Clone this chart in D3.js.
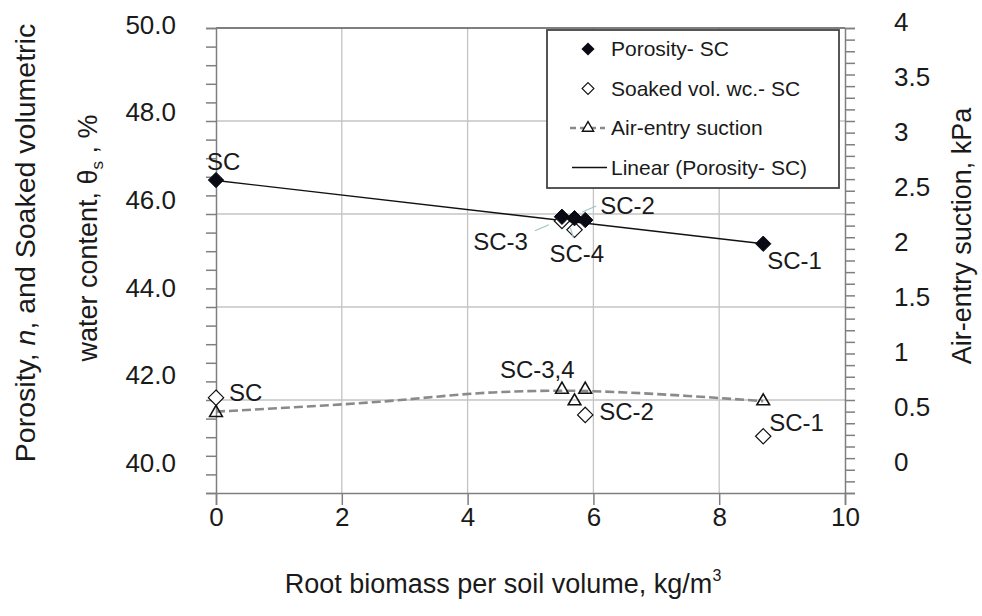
<!DOCTYPE html>
<html>
<head>
<meta charset="utf-8">
<script src="https://cdn.jsdelivr.net/npm/d3@7/dist/d3.min.js"></script>
<style>
body { margin:0; background:#fff; }
svg { font-family:"Liberation Sans", Arial, sans-serif; }
.tick text { fill:#1a1a1a; }
</style>
</head>
<body>
<svg id="chart"></svg>
<script>
var samples  = ["SC", "SC-3", "SC-4", "SC-2", "SC-1"];
var biomass  = [0, 5.5, 5.7, 5.87, 8.7];
var porosity = [46.73, 45.94, 45.91, 45.87, 45.36];
var soakedWc = [42.05, 45.85, 45.66, 41.68, 41.22];
var airEntry = [0.69, 0.89, 0.79, 0.89, 0.79];

// trend lines as they appear in the picture
var porTrendX = [0, 8.7];
var porTrendY = [46.72, 45.36];
var airTrendX = [0, 2.6, 4.4, 5.5, 6.5, 7.5, 8.7];
var airTrendY = [0.70, 0.785, 0.865, 0.88, 0.865, 0.835, 0.79];

var xTicks  = [0, 2, 4, 6, 8, 10];
var yTicksL = [40, 42, 44, 46, 48, 50];
var yTicksR = [0, 0.5, 1, 1.5, 2, 2.5, 3, 3.5, 4];

var legendNames = ["Porosity- SC", "Soaked vol. wc.- SC", "Air-entry suction", "Linear (Porosity- SC)"];

var screen = {width:982, height:616};
var plot = {left:216, right:845, top:28, bottom:493};

var svg = d3.select("#chart")
    .attr("width", screen.width)
    .attr("height", screen.height);

var x = d3.scaleLinear().domain([0,10]).range([plot.left, plot.right]);
var yL = d3.scaleLinear().domain([40,50]).range([plot.bottom, plot.top]);
var yR = d3.scaleLinear().domain([0,4]).range([plot.bottom, plot.top]);
// tick labels in the picture sit on a slightly tighter spacing than the grid
var yLabL = d3.scaleLinear().domain([40,50]).range([463, 25]);
var yLabR = d3.scaleLinear().domain([0,4]).range([462, 22]);

var gridColor = "#c4c4c4";
var axisColor = "#7f7f7f";

// gridlines
var grid = svg.append("g").classed("grid", true);
grid.selectAll(".gx")
    .data(xTicks.filter(function(d){ return d>0 && d<10; }))
    .enter().append("line")
    .attr("x1", function(d){ return x(d); })
    .attr("x2", function(d){ return x(d); })
    .attr("y1", plot.top).attr("y2", plot.bottom)
    .attr("stroke", gridColor).attr("stroke-width", 1.3);
grid.selectAll(".gy")
    .data(yTicksL.filter(function(d){ return d>40 && d<50; }))
    .enter().append("line")
    .attr("x1", plot.left).attr("x2", plot.right)
    .attr("y1", function(d){ return yL(d); })
    .attr("y2", function(d){ return yL(d); })
    .attr("stroke", gridColor).attr("stroke-width", 1.3);

// top border
svg.append("line")
    .attr("x1", plot.left).attr("x2", plot.right)
    .attr("y1", plot.top).attr("y2", plot.top)
    .attr("stroke", "#555").attr("stroke-width", 1.5);

var styleAxis = function(g)
{
    g.selectAll("path").attr("stroke", axisColor).attr("stroke-width", 1.5);
    g.selectAll("line").attr("stroke", axisColor).attr("stroke-width", 1.5);
};

// minor + major tick marks
var xMinor = d3.range(0, 10.01, 0.4);
var gx = svg.append("g")
    .attr("transform", "translate(0,"+plot.bottom+")")
    .call(d3.axisBottom(x).tickValues(xMinor).tickSize(10).tickFormat(""));
gx.call(d3.axisBottom(x).tickValues(xTicks).tickSize(12).tickFormat(""));
styleAxis(gx);

var gxl = svg.append("g")
    .attr("transform", "translate(0,"+(plot.bottom+15)+")")
    .call(d3.axisBottom(x).tickValues(xTicks).tickSize(0).tickPadding(0).tickFormat(d3.format("d")));
gxl.select(".domain").remove();
gxl.selectAll("text").attr("font-size", 26).attr("dy", "0.71em");

var yMinorL = d3.range(40, 50.01, 0.4);
var gyl = svg.append("g")
    .attr("transform", "translate("+plot.left+",0)")
    .call(d3.axisLeft(yL).tickValues(yMinorL).tickSize(10).tickFormat(""));
styleAxis(gyl);

var gyll = svg.append("g")
    .attr("transform", "translate(176,0)")
    .call(d3.axisLeft(yLabL).tickValues(yTicksL).tickSize(0).tickPadding(0).tickFormat(d3.format(".1f")));
gyll.select(".domain").remove();
gyll.selectAll("text").attr("font-size", 26);

var yMinorR = d3.range(0, 4.001, 0.1);
var gyr = svg.append("g")
    .attr("transform", "translate("+plot.right+",0)")
    .call(d3.axisRight(yR).tickValues(yMinorR).tickSize(10).tickFormat(""));
styleAxis(gyr);

var gyrl = svg.append("g")
    .attr("transform", "translate(894,0)")
    .call(d3.axisRight(yLabR).tickValues(yTicksR).tickSize(0).tickPadding(0).tickFormat(function(d){ return String(d); }));
gyrl.select(".domain").remove();
gyrl.selectAll("text").attr("font-size", 26);

// axis titles
var xt = svg.append("text")
    .attr("x", 503).attr("y", 593)
    .attr("text-anchor", "middle")
    .attr("font-size", 27)
    .attr("fill", "#1a1a1a");
xt.append("tspan").text("Root biomass per soil volume, kg/m");
xt.append("tspan").text("3").attr("font-size", 16).attr("dy", -12);

var yt1 = svg.append("text")
    .attr("transform", "translate(25,243) rotate(-90)")
    .attr("text-anchor", "middle")
    .attr("dy", "0.35em")
    .attr("font-size", 28.5)
    .attr("fill", "#1a1a1a");
yt1.append("tspan").text("Porosity, ");
yt1.append("tspan").text("n").attr("font-style", "italic");
yt1.append("tspan").text(", and Soaked volumetric");

var yt2 = svg.append("text")
    .attr("transform", "translate(88,238) rotate(-90)")
    .attr("text-anchor", "middle")
    .attr("dy", "0.35em")
    .attr("font-size", 27)
    .attr("fill", "#1a1a1a");
yt2.append("tspan").text("water content, \u03b8");
yt2.append("tspan").text("s").attr("font-size", 17).attr("dy", 6);
yt2.append("tspan").text(" , %").attr("dy", -6);

svg.append("text")
    .attr("transform", "translate(962,236) rotate(-90)")
    .attr("text-anchor", "middle")
    .attr("dy", "0.35em")
    .attr("font-size", 27)
    .attr("fill", "#1a1a1a")
    .text("Air-entry suction, kPa");

// lines
var points = function(xs, ys){ return xs.map(function(d,i){ return [d, ys[i]]; }); };

svg.append("path")
    .datum(points(airTrendX, airTrendY))
    .attr("d", d3.line().x(function(d){ return x(d[0]); }).y(function(d){ return yR(d[1]); }).curve(d3.curveMonotoneX))
    .attr("fill", "none")
    .attr("stroke", "#8a8a8a")
    .attr("stroke-width", 2.6)
    .attr("stroke-dasharray", "9,4");

svg.append("path")
    .datum(points(porTrendX, porTrendY))
    .attr("d", d3.line().x(function(d){ return x(d[0]); }).y(function(d){ return yL(d[1]); }))
    .attr("fill", "none")
    .attr("stroke", "#111")
    .attr("stroke-width", 1.4);

// markers
var diamond = d3.symbol().type(d3.symbolDiamond2).size(150);
var triangle = d3.symbol().type(d3.symbolTriangle2).size(115);

svg.append("g").selectAll("path")
    .data(biomass)
    .enter().append("path")
    .attr("transform", function(d,i){ return "translate("+x(d)+","+yR(airEntry[i])+")"; })
    .attr("d", triangle)
    .attr("fill", "none")
    .attr("stroke", "#111")
    .attr("stroke-width", 1.6);

svg.append("g").selectAll("path")
    .data(biomass)
    .enter().append("path")
    .attr("d", diamond)
    .attr("transform", function(d,i){ return "translate("+x(d)+","+yL(soakedWc[i])+")"; })
    .attr("fill", "#fff")
    .attr("stroke", "#111")
    .attr("stroke-width", 1.2);

svg.append("g").selectAll("path")
    .data(biomass)
    .enter().append("path")
    .attr("d", diamond)
    .attr("transform", function(d,i){ return "translate("+x(d)+","+yL(porosity[i])+")"; })
    .attr("fill", "#0a0a14")
    .attr("stroke", "#0a0a14")
    .attr("stroke-width", 1);

// point labels (offsets from the point they name)
var notes = [
    {t:"SC",     i:0, s:"por",  dx:-9,  dy:-10, a:"start"},
    {t:"SC-2",   i:3, s:"por",  dx:15,  dy:-6,  a:"start", lead:[-3,-8,11,-14]},
    {t:"SC-3",   i:1, s:"por",  dx:-34, dy:33,  a:"end",   lead:[-27,14,-13,8]},
    {t:"SC-4",   i:2, s:"por",  dx:-25, dy:44,  a:"start", lead:[-4,10,-1,20]},
    {t:"SC-1",   i:4, s:"por",  dx:4,   dy:25,  a:"start"},
    {t:"SC",     i:0, s:"wc",   dx:13,  dy:3,   a:"start"},
    {t:"SC-3,4", i:1, s:"air",  dx:-62, dy:-12, a:"start"},
    {t:"SC-2",   i:3, s:"wc",   dx:14,  dy:5,   a:"start"},
    {t:"SC-1",   i:4, s:"wc",   dx:6,   dy:-5,  a:"start"}
];
var noteY = function(n)
{
    if (n.s=="por") return yL(porosity[n.i]);
    if (n.s=="wc") return yL(soakedWc[n.i]);
    return yR(airEntry[n.i]);
};

notes.forEach(function(n)
{
    var px = x(biomass[n.i]), py = noteY(n);
    if (n.lead)
    {
        svg.append("line")
            .attr("x1", px+n.lead[0]).attr("y1", py+n.lead[1])
            .attr("x2", px+n.lead[2]).attr("y2", py+n.lead[3])
            .attr("stroke", "#9fc4c4").attr("stroke-width", 1.2);
    }
    svg.append("text")
        .attr("x", px+n.dx).attr("y", py+n.dy)
        .attr("text-anchor", n.a)
        .attr("font-size", 24)
        .attr("fill", "#1a1a1a")
        .text(n.t);
});

// legend
var lg = svg.append("g").attr("transform", "translate(547,30)");
lg.append("rect")
    .attr("width", 292).attr("height", 158)
    .attr("fill", "#fff")
    .attr("stroke", "#444").attr("stroke-width", 1.8);

var rows = lg.selectAll(".row")
    .data(legendNames)
    .enter().append("g")
    .attr("transform", function(d,i){ return "translate(0,"+(19+i*39.5)+")"; });

rows.append("text")
    .attr("x", 64).attr("dy", "0.35em")
    .attr("font-size", 21)
    .attr("fill", "#1a1a1a")
    .text(function(d){ return d; });

rows.filter(function(d,i){ return i==2; }).append("line")
    .attr("x1", 23).attr("x2", 58)
    .attr("stroke", "#8a8a8a").attr("stroke-width", 2.6).attr("stroke-dasharray", "6,4");
rows.filter(function(d,i){ return i==3; }).append("line")
    .attr("x1", 25).attr("x2", 60)
    .attr("stroke", "#111").attr("stroke-width", 1.4);

rows.filter(function(d,i){ return i==0; }).append("path")
    .attr("d", d3.symbol().type(d3.symbolDiamond2).size(110))
    .attr("transform", "translate(41,0)")
    .attr("fill", "#0a0a14");
rows.filter(function(d,i){ return i==1; }).append("path")
    .attr("d", d3.symbol().type(d3.symbolDiamond2).size(90))
    .attr("transform", "translate(41,0)")
    .attr("fill", "#fff").attr("stroke", "#111").attr("stroke-width", 1.1);
rows.filter(function(d,i){ return i==2; }).append("path")
    .attr("d", d3.symbol().type(d3.symbolTriangle2).size(90))
    .attr("transform", "translate(41,0)")
    .attr("fill", "#fff").attr("stroke", "#111").attr("stroke-width", 1.4);
</script>
</body>
</html>
